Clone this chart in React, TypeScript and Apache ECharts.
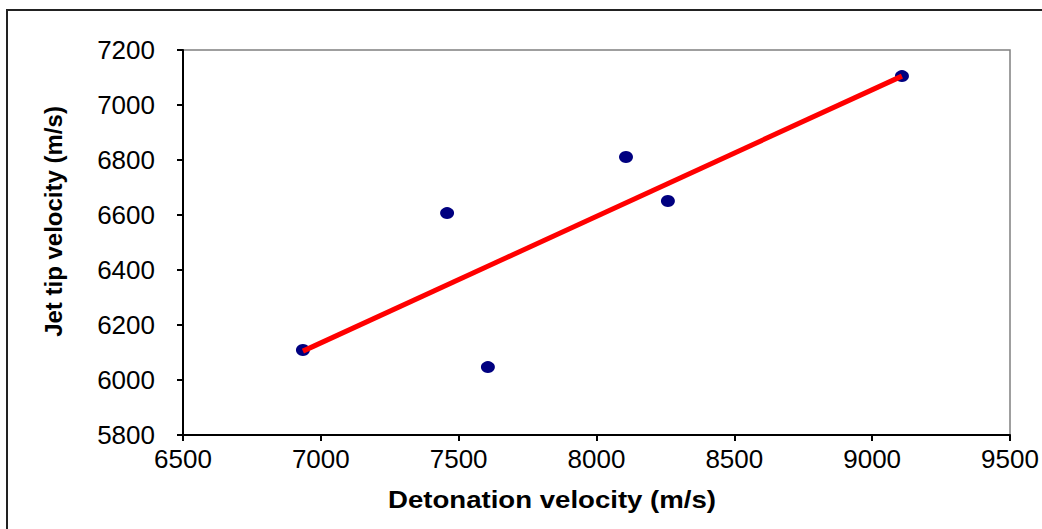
import React, { useEffect, useRef } from "react";
import * as echarts from "echarts";

const detonationVelocity = [6935, 7458, 7606, 8107, 8259, 9108];
const jetTipVelocity = [6109, 6607, 6047, 6811, 6651, 7105];
const trendX = [6935, 9108];
const trendY = [6105, 7105];

const xTitle = "Detonation velocity (m/s)";
const yTitle = "Jet tip velocity (m/s)";

export default function App() {
  const ref = useRef<HTMLDivElement>(null);
  useEffect(() => {
    document.body.style.margin = "0";
    const chart = echarts.init(ref.current!, null, { renderer: "svg" });
    const font = "'Liberation Sans', Arial, sans-serif";
    chart.setOption({
      animation: false,
      backgroundColor: "#ffffff",
      grid: {
        left: 183,
        top: 50,
        right: 32,
        bottom: 94,
        show: true,
        borderColor: "#808080",
        borderWidth: 1.5,
      },
      xAxis: {
        type: "value",
        min: 6500,
        max: 9500,
        interval: 500,
        axisLine: { show: true, lineStyle: { color: "#000", width: 2 } },
        axisTick: { show: true, length: 6, lineStyle: { color: "#000", width: 2 } },
        axisLabel: {
          fontFamily: font,
          fontSize: 26,
          color: "#000",
          margin: 11,
          formatter: (v: number) => String(v),
        },
        splitLine: { show: false },
      },
      yAxis: {
        type: "value",
        min: 5800,
        max: 7200,
        interval: 200,
        name: yTitle,
        nameLocation: "middle",
        nameGap: 118,
        nameTextStyle: {
          fontFamily: font,
          fontWeight: "bold",
          fontSize: 24,
          color: "#000",
          padding: [0, 0, 0, 42],
        },
        axisLine: { show: true, lineStyle: { color: "#000", width: 2 } },
        axisTick: { show: true, length: 6, lineStyle: { color: "#000", width: 2 } },
        axisLabel: {
          fontFamily: font,
          fontSize: 26,
          color: "#000",
          margin: 28,
          formatter: (v: number) => String(v),
        },
        splitLine: { show: false },
      },
      graphic: [
        {
          type: "rect",
          shape: { x: 7, y: 10, width: 1100, height: 600 },
          style: { fill: "none", stroke: "#222", lineWidth: 2 },
          silent: true,
        },
        {
          type: "text",
          x: 552,
          y: 500,
          scaleX: 1.2,
          style: {
            text: xTitle,
            fontFamily: font,
            fontWeight: "bold",
            fontSize: 23,
            fill: "#000",
            align: "center",
            verticalAlign: "middle",
          },
          silent: true,
        },
      ],
      series: [
        {
          type: "scatter",
          data: detonationVelocity.map((x, i) => [x, jetTipVelocity[i]]),
          symbol: "circle",
          symbolSize: [14, 12],
          itemStyle: { color: "#000080", opacity: 1 },
          z: 2,
        },
        {
          type: "line",
          data: trendX.map((x, i) => [x, trendY[i]]),
          showSymbol: false,
          symbol: "none",
          lineStyle: { color: "#ff0000", width: 5 },
          z: 3,
        },
      ],
    });
    return () => chart.dispose();
  }, []);
  return (
    <div
      ref={ref}
      style={{ position: "fixed", left: 0, top: 0, width: 1042, height: 529 }}
    />
  );
}
